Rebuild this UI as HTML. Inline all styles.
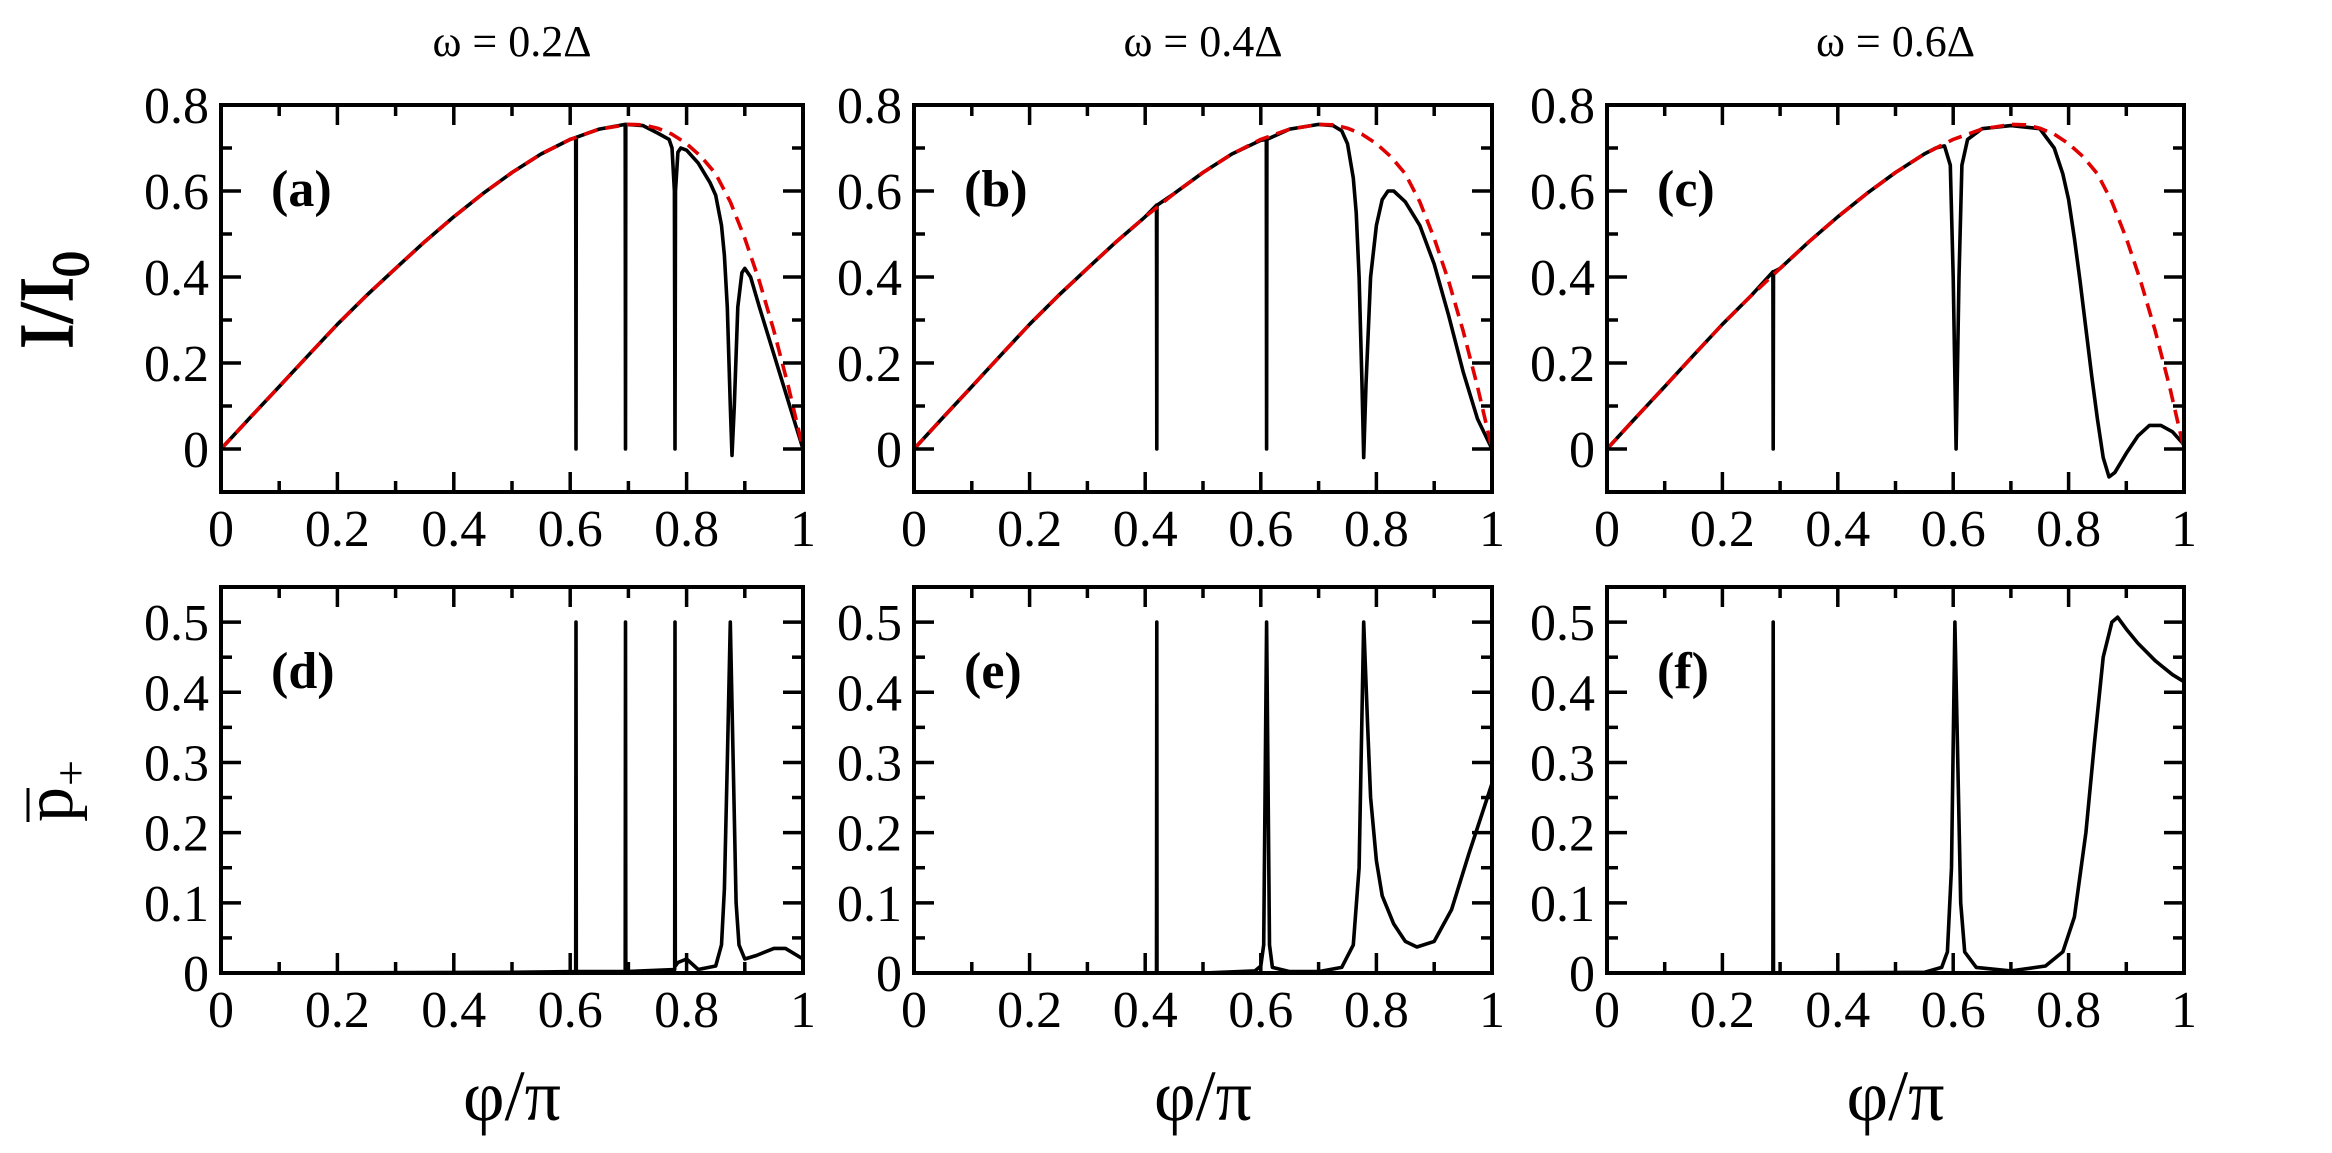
<!DOCTYPE html>
<html><head><meta charset="utf-8"><style>
html,body{margin:0;padding:0;background:#fff;}
svg{display:block;font-family:"Liberation Serif",serif;}
</style></head><body>
<svg id="fig" width="2332" height="1153" viewBox="0 0 2332 1153" xmlns="http://www.w3.org/2000/svg"></svg>
<script>
// ---- data ----
const refPhi = [0,0.05,0.1,0.15,0.2,0.25,0.3,0.35,0.4,0.45,0.5,0.55,0.6,0.65,0.7,0.725,0.75,0.775,0.8,0.825,0.85,0.875,0.9,0.925,0.95,0.975,1];
const refI   = [0,0.073,0.145,0.218,0.29,0.357,0.42,0.482,0.54,0.594,0.643,0.686,0.72,0.744,0.755,0.754,0.746,0.732,0.71,0.68,0.64,0.575,0.49,0.39,0.275,0.145,0];

const phiA = [0,0.05,0.1,0.15,0.2,0.25,0.3,0.35,0.4,0.45,0.5,0.55,0.6,0.6095,0.61,0.6105,0.65,0.6945,0.695,0.6955,0.725,0.75,0.77,0.775,0.779,0.78,0.781,0.785,0.79,0.8,0.82,0.84,0.85,0.86,0.865,0.87,0.875,0.878,0.882,0.888,0.895,0.9,0.91,0.925,0.95,0.975,1];
const curA = [0,0.073,0.145,0.218,0.29,0.357,0.42,0.482,0.54,0.594,0.643,0.686,0.72,0.724,0,0.725,0.744,0.755,0,0.755,0.752,0.735,0.72,0.7,0.6,0,0.6,0.69,0.70,0.695,0.665,0.62,0.59,0.52,0.45,0.33,0.1,-0.015,0.1,0.33,0.41,0.42,0.4,0.33,0.22,0.11,0];
const phiB = [0,0.05,0.1,0.15,0.2,0.25,0.3,0.35,0.4,0.4195,0.42,0.4205,0.45,0.5,0.55,0.6,0.6095,0.61,0.6105,0.65,0.7,0.725,0.74,0.75,0.76,0.765,0.77,0.775,0.778,0.782,0.79,0.8,0.81,0.82,0.83,0.85,0.875,0.9,0.925,0.95,0.975,1];
const curB = [0,0.073,0.145,0.218,0.29,0.357,0.42,0.482,0.54,0.567,0,0.567,0.594,0.643,0.686,0.718,0.72,0,0.72,0.744,0.755,0.752,0.74,0.71,0.63,0.55,0.4,0.15,-0.02,0.15,0.4,0.52,0.58,0.6,0.6,0.575,0.52,0.43,0.31,0.18,0.07,0];
const phiC = [0,0.05,0.1,0.15,0.2,0.25,0.2875,0.288,0.2885,0.3,0.35,0.4,0.45,0.5,0.55,0.57,0.585,0.595,0.6,0.605,0.61,0.615,0.625,0.65,0.7,0.75,0.775,0.79,0.8,0.81,0.82,0.83,0.84,0.85,0.86,0.87,0.88,0.9,0.92,0.94,0.96,0.98,1];
const curC = [0,0.073,0.145,0.218,0.29,0.357,0.412,0,0.412,0.42,0.482,0.54,0.594,0.643,0.686,0.7,0.705,0.66,0.4,0,0.4,0.66,0.72,0.745,0.752,0.745,0.7,0.64,0.58,0.49,0.39,0.28,0.17,0.07,-0.02,-0.065,-0.055,-0.01,0.03,0.055,0.055,0.04,0.01];

const phiD = [0,0.5,0.6095,0.61,0.6105,0.6945,0.695,0.6955,0.7795,0.78,0.7805,0.785,0.8,0.82,0.85,0.86,0.865,0.87,0.875,0.88,0.885,0.89,0.9,0.92,0.95,0.97,1];
const pD   = [0,0.001,0.002,0.5,0.002,0.002,0.5,0.002,0.005,0.5,0.01,0.015,0.02,0.005,0.01,0.04,0.12,0.3,0.5,0.3,0.1,0.04,0.02,0.025,0.035,0.035,0.02];
const phiE = [0,0.4195,0.42,0.4205,0.5,0.59,0.6,0.605,0.61,0.615,0.62,0.65,0.7,0.74,0.76,0.77,0.778,0.785,0.79,0.8,0.81,0.83,0.85,0.87,0.9,0.93,0.96,1];
const pE   = [0,0.0,0.5,0.0,0.0,0.003,0.01,0.04,0.5,0.04,0.008,0.002,0.002,0.008,0.04,0.15,0.5,0.35,0.25,0.16,0.11,0.07,0.045,0.037,0.045,0.09,0.17,0.27];
const phiF = [0,0.2875,0.288,0.2885,0.55,0.58,0.59,0.597,0.603,0.608,0.613,0.62,0.64,0.7,0.76,0.79,0.81,0.83,0.845,0.86,0.875,0.885,0.9,0.92,0.95,0.98,1];
const pF   = [0,0.0,0.5,0.0,0.001,0.008,0.03,0.15,0.5,0.3,0.1,0.03,0.008,0.003,0.01,0.03,0.08,0.2,0.33,0.45,0.5,0.507,0.49,0.47,0.445,0.425,0.415];

const xTicks = ["0","0.2","0.4","0.6","0.8","1"];
const yTicksI = ["0","0.2","0.4","0.6","0.8"];
const yTicksP = ["0","0.1","0.2","0.3","0.4","0.5"];
const titles = ["ω = 0.2Δ","ω = 0.4Δ","ω = 0.6Δ"];
const panelLabels = ["(a)","(b)","(c)","(d)","(e)","(f)"];

// ---- layout ----
const cols = [[221,803],[914,1492],[1607,2184]];
const rows = [[105,492],[587,973]];
const NS = "http://www.w3.org/2000/svg";
const svg = document.getElementById('fig');
function mk(tag, attrs, parent){const e=document.createElementNS(NS,tag);for(const k in attrs)e.setAttribute(k,attrs[k]);(parent||svg).appendChild(e);return e;}

function panel(ci, ri, ymin, ymax, yMajor, yMinor, yLabels, series, idx){
  const [x0,x1]=cols[ci], [y0,y1]=rows[ri];
  const sx=v=>x0+(x1-x0)*v, sy=v=>y1-(y1-y0)*(v-ymin)/(ymax-ymin);
  const g=mk('g',{});
  
  
  series.forEach(s=>{
    const d=s.x.map((v,i)=>(i?'L':'M')+sx(v).toFixed(1)+' '+sy(s.y[i]).toFixed(1)).join(' ');
    const p=mk('path',{d:d,fill:'none',stroke:s.c,'stroke-width':s.w,'stroke-dasharray':s.dash||'none','stroke-linejoin':'round'},g);
    
    
  });
  const tk=mk('g',{stroke:'#000','stroke-width':3.5},g);
  
  
  for(let k=0;k<=10;k++){const v=k/10,L=(k%2==0)?20:11,X=sx(v);
    mk('line',{x1:X,y1:y1,x2:X,y2:y1-L},tk);mk('line',{x1:X,y1:y0,x2:X,y2:y0+L},tk);}
  for(let v=ymin;v<=ymax+1e-9;v+=yMinor){const maj=Math.abs(v/yMajor-Math.round(v/yMajor))<1e-6;const L=maj?20:11,Y=sy(v);
    mk('line',{x1:x0,y1:Y,x2:x0+L,y2:Y},tk);mk('line',{x1:x1,y1:Y,x2:x1-L,y2:Y},tk);}
  const fr=mk('rect',{x:x0,y:y0,width:x1-x0,height:y1-y0,fill:'none',stroke:'#000','stroke-width':4},g);
  
  
  xTicks.forEach((t,i)=>{const e=mk('text',{x:sx(i*0.2),y:y1+54,'font-size':52,'text-anchor':'middle'},g);e.textContent=t;
    });
  yLabels.forEach((t,i)=>{const e=mk('text',{x:x0-12,y:sy(i*yMajor)+18,'font-size':52,'text-anchor':'end'},g);e.textContent=t;
    });
  const pl=mk('text',{x:x0+50,y:ri==0?206:688,'font-size':52,'font-weight':'bold'},g);pl.textContent=panelLabels[idx];
  
}
const blk=(x,y)=>({x:x,y:y,c:'#000',w:3.6,name:'black-curve'});
const red={x:refPhi,y:refI,c:'#e00000',w:3.6,dash:'14 8',name:'red-dashed-reference'};
panel(0,0,-0.1,0.8,0.2,0.1,yTicksI,[blk(phiA,curA),red],0);
panel(1,0,-0.1,0.8,0.2,0.1,yTicksI,[blk(phiB,curB),red],1);
panel(2,0,-0.1,0.8,0.2,0.1,yTicksI,[blk(phiC,curC),red],2);
panel(0,1,0,0.55,0.1,0.05,yTicksP,[blk(phiD,pD)],3);
panel(1,1,0,0.55,0.1,0.05,yTicksP,[blk(phiE,pE)],4);
panel(2,1,0,0.55,0.1,0.05,yTicksP,[blk(phiF,pF)],5);
titles.forEach((t,i)=>{const e=mk('text',{x:(cols[i][0]+cols[i][1])/2,y:56,'font-size':44,'text-anchor':'middle'});e.textContent=t;
  
  const f=mk('text',{x:(cols[i][0]+cols[i][1])/2,y:1120,'font-size':72,'text-anchor':'middle'});f.textContent='φ/π';
  });
</script>
<svg style="position:absolute;left:0;top:0" width="2332" height="1153">
<text transform="translate(72,300) rotate(-90)" text-anchor="middle" font-family="Liberation Serif" font-size="76" stroke="#000" stroke-width="1.5">I/I<tspan font-size="52" dy="16">0</tspan></text>
<g transform="translate(72,790) rotate(-90)" font-family="Liberation Serif">
<text x="-32" y="0" font-size="70">p</text>
<line x1="-32" y1="-44" x2="2" y2="-44" stroke="#000" stroke-width="3"/>
<text x="4" y="14" font-size="46">+</text>
</g>
</svg>
</body></html>
